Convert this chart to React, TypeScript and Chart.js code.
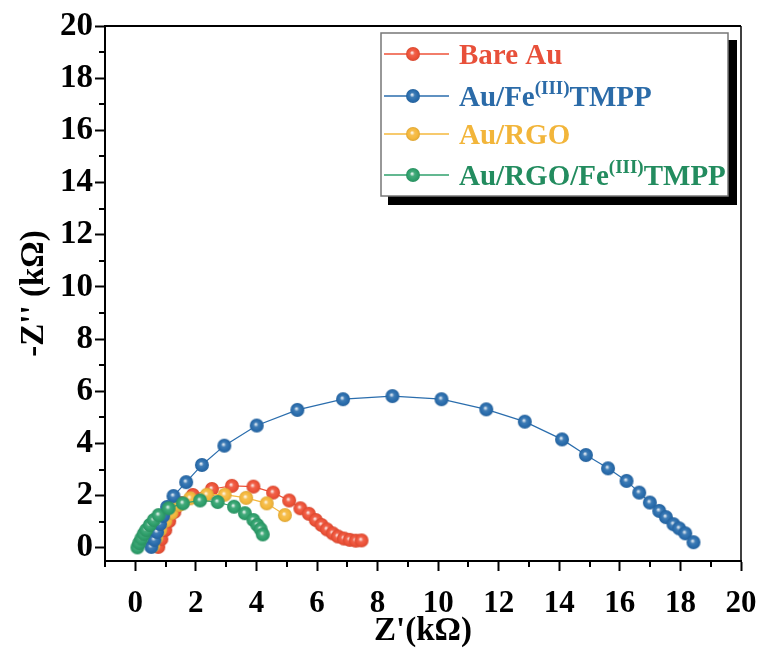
import React, { useEffect, useRef } from 'react';
import { Chart, registerables } from 'chart.js';
Chart.register(...registerables);

// ---- data (Z' in kΩ, -Z'' in kΩ) ----
const bareAuX = [0.76, 0.86, 0.99, 1.12, 1.29, 1.52, 1.90, 2.53, 3.19, 3.90, 4.55, 5.08, 5.45, 5.73, 5.96, 6.15, 6.33, 6.52, 6.69, 6.89, 7.08, 7.28, 7.47];
const bareAuY = [0.04, 0.34, 0.69, 1.03, 1.38, 1.72, 2.03, 2.26, 2.38, 2.35, 2.12, 1.82, 1.52, 1.31, 1.07, 0.88, 0.71, 0.56, 0.44, 0.36, 0.31, 0.28, 0.29];

const feTmppX = [0.53, 0.63, 0.72, 0.82, 0.92, 1.05, 1.26, 1.68, 2.20, 2.94, 4.01, 5.35, 6.86, 8.49, 10.11, 11.59, 12.86, 14.09, 14.88, 15.61, 16.22, 16.64, 16.99, 17.30, 17.52, 17.77, 17.96, 18.16, 18.43];
const feTmppY = [0.04, 0.31, 0.61, 0.92, 1.23, 1.57, 1.99, 2.52, 3.18, 3.92, 4.69, 5.29, 5.70, 5.82, 5.70, 5.31, 4.84, 4.16, 3.56, 3.05, 2.57, 2.12, 1.74, 1.42, 1.18, 0.91, 0.75, 0.56, 0.22];

const rgoX = [0.59, 0.69, 0.82, 0.99, 1.19, 1.45, 1.81, 2.36, 2.95, 3.66, 4.34, 4.94];
const rgoY = [0.08, 0.38, 0.69, 1.03, 1.34, 1.65, 1.90, 2.04, 2.04, 1.92, 1.71, 1.26];

const rgoFeX = [0.07, 0.13, 0.20, 0.28, 0.36, 0.48, 0.61, 0.77, 1.10, 1.57, 2.14, 2.72, 3.26, 3.62, 3.90, 4.03, 4.14, 4.21];
const rgoFeY = [0.02, 0.19, 0.36, 0.54, 0.69, 0.88, 1.07, 1.26, 1.52, 1.71, 1.82, 1.76, 1.58, 1.33, 1.07, 0.88, 0.72, 0.52];

const xTickValues = [0, 2, 4, 6, 8, 10, 12, 14, 16, 18, 20];
const yTickValues = [0, 2, 4, 6, 8, 10, 12, 14, 16, 18, 20];
const xMinorTicks = [-1, 1, 3, 5, 7, 9, 11, 13, 15, 17, 19];
const yMinorTicks = [1, 3, 5, 7, 9, 11, 13, 15, 17, 19];

const seriesNames = ['Bare Au', 'Au/Fe(III)TMPP', 'Au/RGO', 'Au/RGO/Fe(III)TMPP'];
const legendParts = [
  [{ t: 'Bare Au' }],
  [{ t: 'Au/Fe' }, { t: '(III)', sup: true }, { t: 'TMPP' }],
  [{ t: 'Au/RGO' }],
  [{ t: 'Au/RGO/Fe' }, { t: '(III)', sup: true }, { t: 'TMPP' }],
];
const lineColors = ['#EE5238', '#2A6DAD', '#F5B83C', '#2FA06C'];
const textColors = ['#E8503A', '#2B6BA8', '#F2B53A', '#238C5F'];
const drawOrder = [3, 1, 2, 0];

const FONT = "'Liberation Serif', 'Times New Roman', serif";

function shade(hex: string, f: number) {
  const n = parseInt(hex.slice(1), 16);
  let r = (n >> 16) & 255, g = (n >> 8) & 255, b = n & 255;
  if (f >= 0) {
    r = Math.round(r + (255 - r) * f); g = Math.round(g + (255 - g) * f); b = Math.round(b + (255 - b) * f);
  } else {
    r = Math.round(r * (1 + f)); g = Math.round(g * (1 + f)); b = Math.round(b * (1 + f));
  }
  return `rgb(${r},${g},${b})`;
}

function makeSphere(color: string, r: number) {
  const size = Math.ceil(r * 2 + 2);
  const c = document.createElement('canvas');
  c.width = size; c.height = size;
  const ctx = c.getContext('2d')!;
  const cx = size / 2, cy = size / 2;
  const g = ctx.createRadialGradient(cx - r * 0.15, cy - r * 0.2, 0, cx, cy, r);
  g.addColorStop(0, '#ffffff');
  g.addColorStop(0.12, shade(color, 0.7));
  g.addColorStop(0.35, shade(color, 0.1));
  g.addColorStop(0.7, color);
  g.addColorStop(1, shade(color, -0.1));
  ctx.fillStyle = g;
  ctx.beginPath();
  ctx.arc(cx, cy, r, 0, Math.PI * 2);
  ctx.fill();
  return c;
}

let sphereImgs: HTMLCanvasElement[] = [];

const framePlugin = {
  id: 'frameAndLegend',
  afterDraw(chart: any) {
    const ctx = chart.ctx as CanvasRenderingContext2D;
    const { left, right, top, bottom } = chart.chartArea;
    const xs = chart.scales.x, ys = chart.scales.y;
    ctx.save();
    ctx.strokeStyle = '#000';
    ctx.lineWidth = 2;
    ctx.beginPath();
    ctx.moveTo(left, top); ctx.lineTo(right, top);
    ctx.stroke();
    ctx.lineWidth = 1.5;
    ctx.beginPath();
    ctx.moveTo(right, top); ctx.lineTo(right, bottom);
    ctx.stroke();
    ctx.lineWidth = 2;
    ctx.beginPath();
    for (const v of xMinorTicks) {
      const p = Math.round(xs.getPixelForValue(v));
      ctx.moveTo(p, bottom); ctx.lineTo(p, bottom + 6);
    }
    for (const v of yMinorTicks) {
      const p = Math.round(ys.getPixelForValue(v));
      ctx.moveTo(left - 6, p); ctx.lineTo(left, p);
    }
    ctx.stroke();

    // legend
    const bx = 381, by = 33, bw = 347, bh = 163;
    ctx.fillStyle = '#000';
    ctx.fillRect(bx + 7, by + 7, bw + 2, bh + 2);
    ctx.fillStyle = '#fff';
    ctx.fillRect(bx, by, bw, bh);
    ctx.strokeStyle = '#777';
    ctx.lineWidth = 1.5;
    ctx.strokeRect(bx, by, bw, bh);
    const rowY = [54, 96, 134, 175];
    for (let i = 0; i < 4; i++) {
      const y = rowY[i];
      ctx.strokeStyle = lineColors[i];
      ctx.lineWidth = 1.5;
      ctx.beginPath();
      ctx.moveTo(384, y); ctx.lineTo(449, y);
      ctx.stroke();
      const img = sphereImgs[i];
      ctx.drawImage(img, 413 - img.width / 2, y - img.height / 2);
      let x = 459;
      ctx.fillStyle = textColors[i];
      ctx.textBaseline = 'alphabetic';
      ctx.textAlign = 'left';
      for (const part of legendParts[i] as any[]) {
        if (part.sup) {
          ctx.font = `bold 19px ${FONT}`;
          ctx.fillText(part.t, x, y - 2);
        } else {
          ctx.font = `bold 29px ${FONT}`;
          ctx.fillText(part.t, x, y + 10);
        }
        x += ctx.measureText(part.t).width;
      }
    }
    ctx.restore();
  },
};

export default function App() {
  const ref = useRef<HTMLCanvasElement>(null);
  useEffect(() => {
    document.body.style.margin = '0';
    sphereImgs = lineColors.map((c) => makeSphere(c, 7));
    const xsArr = [bareAuX, feTmppX, rgoX, rgoFeX];
    const ysArr = [bareAuY, feTmppY, rgoY, rgoFeY];
    const datasets = seriesNames.map((name, i) => ({
      label: name,
      data: xsArr[i].map((x, j) => ({ x, y: ysArr[i][j] })),
      showLine: true,
      borderColor: lineColors[i],
      backgroundColor: lineColors[i],
      borderWidth: 1.2,
      pointStyle: sphereImgs[i],
      pointRadius: 7,
      pointHoverRadius: 7,
      tension: 0,
      order: drawOrder[i],
    }));
    const yTickFont = { family: FONT, weight: 'bold' as const, size: 33 };
    const xTickFont = { family: FONT, weight: 'bold' as const, size: 31 };
    const chart = new Chart(ref.current!, {
      type: 'scatter',
      data: { datasets },
      plugins: [framePlugin],
      options: {
        animation: false,
        responsive: false,
        devicePixelRatio: 1,
        layout: { padding: { left: 0, top: 26, right: 21, bottom: 0 } },
        plugins: { legend: { display: false }, tooltip: { enabled: false } },
        scales: {
          x: {
            type: 'linear',
            min: -1,
            max: 20,
            afterBuildTicks: (s: any) => { s.ticks = xTickValues.map((v) => ({ value: v })); },
            afterFit: (s: any) => { s.height = 92; s.paddingLeft = 0; s.paddingRight = 0; },
            grid: { drawOnChartArea: false, drawTicks: true, tickLength: 10, tickColor: '#000', tickWidth: 2 },
            border: { display: true, color: '#000', width: 2 },
            ticks: { font: xTickFont, color: '#000', padding: 14, maxRotation: 0, autoSkip: false },
            title: { display: true, text: "Z'(kΩ)", color: '#000', font: { family: FONT, weight: 'bold', size: 33 }, padding: { top: 0, bottom: 2 } },
          },
          y: {
            type: 'linear',
            min: -0.5,
            max: 20,
            afterBuildTicks: (s: any) => { s.ticks = yTickValues.map((v) => ({ value: v })); },
            afterFit: (s: any) => { s.width = 105; s.paddingTop = 0; s.paddingBottom = 0; },
            grid: { drawOnChartArea: false, drawTicks: true, tickLength: 10, tickColor: '#000', tickWidth: 2 },
            border: { display: true, color: '#000', width: 2 },
            ticks: { font: yTickFont, color: '#000', padding: 2, autoSkip: false },
            title: { display: true, text: "-Z'' (kΩ)", color: '#000', font: { family: FONT, weight: 'bold', size: 33 }, padding: { top: 15, bottom: 0 } },
          },
        },
      },
    });
    return () => chart.destroy();
  }, []);
  return (
    <div style={{ width: 762, height: 653 }}>
      <canvas ref={ref} width={762} height={653} />
    </div>
  );
}
